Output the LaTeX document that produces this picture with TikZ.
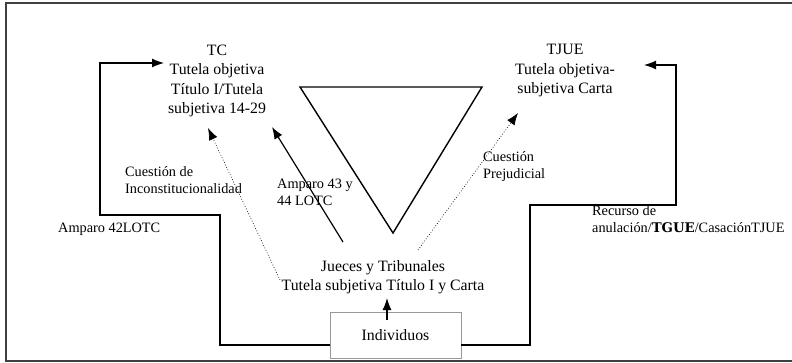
\documentclass[tikz,border=0pt]{standalone}
\usepackage{fontspec}
\setmainfont{Liberation Serif}
\newfontfamily\slabbold{DejaVu Serif}
\usetikzlibrary{arrows.meta}
\tikzset{
  maintext/.style={inner sep=0pt, align=center, font=\fontsize{15.8}{19.5}\selectfont},
  labeltext/.style={inner sep=0pt, align=left, anchor=north west, font=\fontsize{14.3}{17.3}\selectfont},
  conn/.style={line width=1.2pt, -{Latex[length=12pt,width=9pt]}},
  dotconn/.style={line width=0.7pt, dotted, -{Latex[length=12pt,width=9pt]}},
  frame/.style={line width=1.5pt, draw=black!75},
  tri/.style={line width=1.4pt, line join=miter}
}
\begin{document}
\begin{tikzpicture}[x=1pt,y=-1pt]
\useasboundingbox (0,0) rectangle (792,363);
% outer frame (right side cut off)
\draw[frame] (800,3) -- (6,3) -- (6,361) -- (800,361);

% text nodes
\node[maintext] (tc) at (217,81) {TC\\Tutela objetiva\\Título I/Tutela\\subjetiva 14-29};
\node[maintext] (tjue) at (565,71) {TJUE\\Tutela objetiva-\\subjetiva Carta};
\node[maintext] (jueces) at (383,277) {Jueces y Tribunales\\Tutela subjetiva Título I y Carta};
\node[draw=black!40, line width=1pt, minimum width=131pt, minimum height=46pt, inner sep=0pt,
      font=\fontsize{15.8}{17}\selectfont] (ind) at (395.5,335) {Individuos};

% labels
\node[labeltext] (lcons) at (125,166) {Cuestión de\\Inconstitucionalidad};
\node[labeltext] (lamp43) at (277,179) {Amparo 43 y\\44 LOTC};
\node[labeltext] (lamp42) at (58,223) {Amparo 42LOTC};
\node[labeltext] (lprej) at (483,151) {Cuestión\\Prejudicial};
\node[labeltext] (lrec) at (592,205) {Recurso de\\anulación/{\slabbold\bfseries\fontsize{13.3}{17.3}\selectfont TGUE}/CasaciónTJUE};

% triangle
\coordinate (t1) at (300,87);
\coordinate (t2) at (482,87);
\coordinate (t3) at (393,233);
\draw[tri] (t1) -- (t2) -- (t3) -- cycle;

% left connector
\coordinate (ls) at (330,345);
\coordinate (la) at (220,345);
\coordinate (lb) at (220,215);
\coordinate (lc) at (100,215);
\coordinate (ld) at (100,63);
\coordinate (le) at (164,63);
\draw[conn] (ls) -- (la) -- (lb) -- (lc) -- (ld) -- (le);

% right connector
\coordinate (rs) at (461,345);
\coordinate (ra) at (530,345);
\coordinate (rb) at (530,205);
\coordinate (rc) at (676,205);
\coordinate (rd) at (676,65);
\coordinate (re) at (644,65);
\draw[conn] (rs) -- (ra) -- (rb) -- (rc) -- (rd) -- (re);

% amparo 43 arrow
\coordinate (as) at (343,242);
\coordinate (ae) at (272,127);
\draw[conn] (as) -- (ae);

% dotted arrows
\coordinate (ds) at (280,280);
\coordinate (de) at (208,128);
\draw[dotconn] (ds) -- (de);
\coordinate (ps) at (418,250);
\coordinate (pe) at (518,113);
\draw[dotconn] (ps) -- (pe);

% individuos to jueces
\coordinate (vs) at (387,320);
\coordinate (ve) at (387,298);
\draw[conn] (vs) -- (ve);
\end{tikzpicture}
\end{document}
